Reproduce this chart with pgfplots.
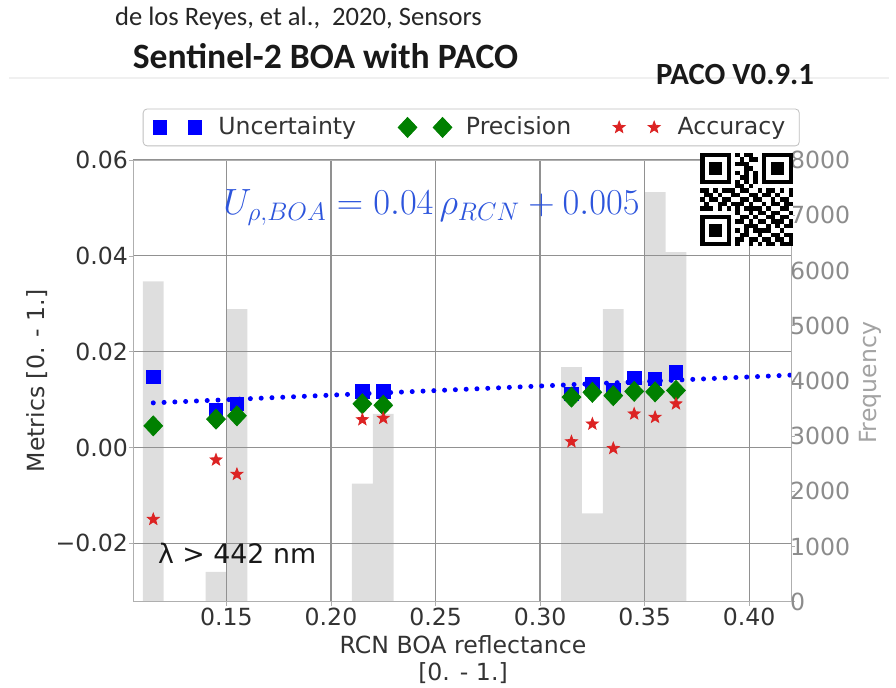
\documentclass[border=0pt]{standalone}
\usepackage{pgfplots}
\pgfplotsset{compat=1.18}
\usepackage{pgfplotstable}
\usepackage{graphicx}
\usepackage{fontspec}
\setmainfont{DejaVu Sans}
\newfontfamily\carlito{Carlito}
\usetikzlibrary{plotmarks}

\definecolor{ublue}{RGB}{0,0,255}
\definecolor{pgreen}{RGB}{0,128,0}
\definecolor{ared}{RGB}{220,35,35}
\definecolor{eqblue}{RGB}{45,85,220}
\definecolor{bargray}{RGB}{222,222,222}
\definecolor{gridgray}{RGB}{145,145,145}
\definecolor{framegray}{RGB}{175,175,175}
\definecolor{freqgray}{RGB}{140,140,140}

\pgfdeclareplotmark{fivestar}{%
  \pgfpathmoveto{\pgfqpointpolar{90}{\pgfplotmarksize}}%
  \pgfpathlineto{\pgfqpointpolar{126}{.42\pgfplotmarksize}}%
  \pgfpathlineto{\pgfqpointpolar{162}{\pgfplotmarksize}}%
  \pgfpathlineto{\pgfqpointpolar{198}{.42\pgfplotmarksize}}%
  \pgfpathlineto{\pgfqpointpolar{234}{\pgfplotmarksize}}%
  \pgfpathlineto{\pgfqpointpolar{270}{.42\pgfplotmarksize}}%
  \pgfpathlineto{\pgfqpointpolar{306}{\pgfplotmarksize}}%
  \pgfpathlineto{\pgfqpointpolar{342}{.42\pgfplotmarksize}}%
  \pgfpathlineto{\pgfqpointpolar{18}{\pgfplotmarksize}}%
  \pgfpathlineto{\pgfqpointpolar{54}{.42\pgfplotmarksize}}%
  \pgfpathclose
  \pgfusepathqfillstroke
}

\pgfplotsset{twomarks/.style={legend image code/.code={\draw[##1] plot coordinates {(0pt,0pt) (17.5pt,0pt)}; \path (27pt,0pt);}}}

\pgfplotstableread{
x freq
0.115 5800
0.145 540
0.155 5300
0.215 2140
0.225 3400
0.315 4250
0.325 1600
0.335 5300
0.345 4000
0.355 7420
0.365 6330
}\freqtable

\pgfplotstableread{
x unc prec acc
0.115 0.0147 0.0045 -0.0150
0.145 0.0077 0.0059 -0.0026
0.155 0.0091 0.0066 -0.0056
0.215 0.0117 0.0091 0.0058
0.225 0.0117 0.0088 0.0061
0.315 0.0112 0.0105 0.0012
0.325 0.0131 0.0115 0.0049
0.335 0.0119 0.0108 -0.0002
0.345 0.0145 0.0117 0.0070
0.355 0.0143 0.0116 0.0063
0.365 0.0157 0.0119 0.0091
}\metrics

\newcommand{\tfont}{\fontsize{11.8}{14}\selectfont}
\newcommand{\eqfont}{\fontsize{17.28}{21}\selectfont}

\begin{document}
\begin{tikzpicture}
\path[use as bounding box] (-66.5pt,-43.15pt) rectangle (381.5pt,300.85pt);
\draw[black!6, line width=0.8pt] (-62pt,261.85pt) -- (378pt,261.85pt);

% Frequency axis (histogram, right)
\begin{axis}[
  scale only axis, width=329pt, height=220.85pt,
  xmin=0.1053, xmax=0.42, ymin=0, ymax=8000,
  hide x axis,
  axis y line*=right,
  axis line style={framegray},
  scaled y ticks=false,
  ytick={0,1000,2000,3000,4000,5000,6000,7000,8000},
  yticklabels={0,1000,2000,3000,4000,5000,6000,7000,8000},
  yticklabel style={font=\tfont, text=freqgray, xshift=-6pt},
  tick style={framegray},
  tick align=outside, major tick length=2pt,
]
\addplot[ybar, bar width=0.01, bar shift=0pt, fill=bargray, draw=none] table[x=x,y=freq]{\freqtable};
\end{axis}

% Metrics axis (left)
\begin{axis}[
  scale only axis, width=329pt, height=220.85pt,
  xmin=0.1053, xmax=0.42, ymin=-0.0322, ymax=0.06,
  axis line style={framegray},
  scaled y ticks=false, scaled x ticks=false,
  xtick={0.15,0.20,0.25,0.30,0.35,0.40},
  xticklabels={0.15,0.20,0.25,0.30,0.35,0.40},
  ytick={-0.02,0,0.02,0.04,0.06},
  yticklabels={−0.02,0.00,0.02,0.04,0.06},
  xtick pos=bottom, ytick pos=left,
  tick align=outside, major tick length=2pt, tick style={framegray},
  grid=major, major grid style={gridgray, line width=0.6pt},
  ticklabel style={font=\tfont, text=black!80},
  yticklabel style={xshift=3pt},
  xticklabel style={yshift=2.5pt},
  legend columns=3,
  legend cell align=left,
  legend style={at={(0.514,1)}, anchor=south, yshift=6.85pt,
    draw=black!25, rounded corners=2pt, fill=white,
    font=\tfont, text=black!80, inner xsep=5pt, inner ysep=2pt,
    /tikz/every even column/.append style={column sep=19pt}},
]
\addplot[forget plot, ublue, line width=2.5pt, line cap=round, dash pattern=on 0pt off 5.4pt]
  coordinates {(0.115,0.0093) (0.42,0.0151)};
\addplot[only marks, mark=square*, mark size=3.4pt, color=ublue, twomarks]
  table[x=x,y=unc]{\metrics};
\addlegendentry{Uncertainty}
\addplot[only marks, mark=diamond*, mark size=5pt, mark options={xscale=1.25}, color=pgreen, twomarks]
  table[x=x,y=prec]{\metrics};
\addlegendentry{Precision}
\addplot[only marks, mark=fivestar, mark size=3.1pt, color=ared, twomarks]
  table[x=x,y=acc]{\metrics};
\addlegendentry{Accuracy}
\end{axis}

% axis labels
\node[rotate=90, font=\tfont, text=black!80] at (-47.75pt,110.4pt) {Metrics [0. - 1.]};
\node[rotate=90, font=\tfont, text=freqgray!80] at (368.5pt,109.35pt) {Frequency};
\node[font=\tfont, text=black!80] at (165pt,-21.6pt) {RCN BOA reflectance};
\node[font=\tfont, text=black!80] at (165pt,-35.6pt) {[0. - 1.]};

% titles
\node[font=\carlito\fontsize{13.3}{16}\selectfont, text=black!85] at (82.75pt,291.85pt) {de los Reyes, et al.,\ \ 2020, Sensors};
\node[font=\carlito\bfseries\fontsize{17.8}{20}\selectfont, text=black!90] at (96.25pt,272.6pt) {Sentinel-2 BOA with PACO};
\node[font=\carlito\bfseries\fontsize{15.4}{18}\selectfont, text=black!90] at (301pt,263.35pt) {PACO V0.9.1};

% equation and annotation
\node[text=eqblue, font=\eqfont] at (149.25pt,197pt) {\scalebox{1.056}{$U_{\rho,BOA} = 0.04\,\rho_{RCN} + 0.005$}};
\node[anchor=west, font=\fontsize{13.4}{16}\selectfont, text=black!90] at (9pt,24.35pt) {λ > 442 nm};

% QR code
\begin{scope}[shift={(283.5pt,224.35pt)}]
\fill[white] (0pt,0pt) rectangle (46.5pt,-46.5pt);
\foreach \qrow [count=\qr from 0] in {
{1,1,1,1,1,1,1,0,1,0,1,1,0,0,1,1,1,1,1,1,1},
{1,0,0,0,0,0,1,0,0,1,0,1,1,0,1,0,0,0,0,0,1},
{1,0,1,1,1,0,1,0,1,1,1,0,0,0,1,0,1,1,1,0,1},
{1,0,1,1,1,0,1,0,0,0,1,1,0,0,1,0,1,1,1,0,1},
{1,0,1,1,1,0,1,0,1,0,1,0,1,0,1,0,1,1,1,0,1},
{1,0,0,0,0,0,1,0,0,1,1,0,1,0,1,0,0,0,0,0,1},
{1,1,1,1,1,1,1,0,1,0,1,0,1,0,1,1,1,1,1,1,1},
{0,0,0,0,0,0,0,0,1,1,0,1,0,0,0,0,0,0,0,0,0},
{1,1,0,1,0,1,1,1,0,1,1,0,0,1,0,1,1,0,1,0,1},
{0,1,1,0,1,0,0,1,1,0,0,1,1,0,1,1,0,1,0,0,1},
{1,0,1,1,0,1,1,0,0,1,1,0,1,1,0,0,1,0,1,1,0},
{0,1,0,0,1,1,0,1,1,1,0,1,0,0,1,0,1,1,0,1,1},
{1,1,1,0,1,0,1,0,1,0,1,1,1,1,0,1,0,0,1,1,0},
{0,0,0,0,0,0,0,0,1,0,0,1,0,1,1,0,1,1,0,0,1},
{1,1,1,1,1,1,1,0,0,1,1,0,1,0,0,1,1,0,1,1,0},
{1,0,0,0,0,0,1,0,1,1,0,1,0,1,1,0,1,1,1,0,1},
{1,0,1,1,1,0,1,0,0,0,1,1,1,0,0,1,0,1,0,1,1},
{1,0,1,1,1,0,1,0,1,0,1,0,1,1,1,1,0,0,1,0,0},
{1,0,1,1,1,0,1,0,0,1,1,0,0,1,0,0,1,1,0,1,1},
{1,0,0,0,0,0,1,0,1,1,0,1,1,0,1,1,0,1,1,0,1},
{1,1,1,1,1,1,1,0,1,0,0,1,0,1,0,1,1,0,1,1,1}}{
  \foreach \qv [count=\qc from 0] in \qrow {
    \ifnum\qv=1
      \fill[black] (\qc*2.214pt,-\qr*2.214pt) rectangle ++(2.25pt,-2.25pt);
    \fi
  }
}
\end{scope}
\end{tikzpicture}
\end{document}
